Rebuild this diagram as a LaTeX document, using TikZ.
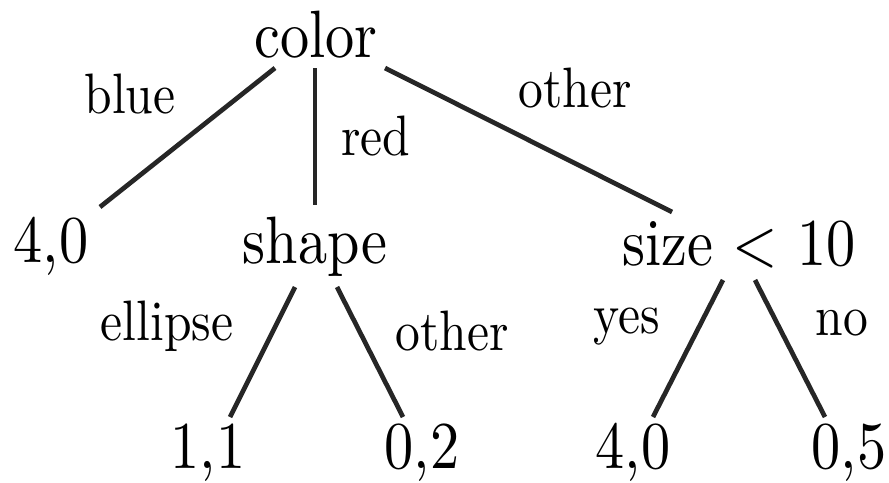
\documentclass[tikz,border=0pt]{standalone}
\usepackage{graphicx}
\usepackage{fontspec}
\setmainfont{lmroman10-regular.otf}
\newcommand\NT[1]{\scalebox{0.87}[1]{#1}}
\begin{document}
\begin{tikzpicture}[x=1pt,y=-1pt,
  nd/.style={anchor=base, inner sep=0pt, font=\fontsize{67}{80}\selectfont},
  lb/.style={anchor=base, inner sep=0pt, font=\fontsize{57}{68}\selectfont},
  edge/.style={line width=4.7pt, black!85}]
\useasboundingbox (0,0) rectangle (889,482);
% nodes
\node[nd] (color) at (316,57) {\NT{color}};
\node[nd] (l40) at (51,262) {\NT{4,0}};
\node[nd] (shape) at (315,263) {\NT{shape}};
\node[nd] (size) at (739,265) {\NT{size < 10}};
\node[nd] (n11) at (208,468) {\NT{1,1}};
\node[nd] (n02) at (422,468) {\NT{0,2}};
\node[nd] (n40) at (633,468) {\NT{4,0}};
\node[nd] (n05) at (849,468) {\NT{0,5}};
% labels
\node[lb] (lblue) at (130,113) {\NT{blue}};
\node[lb] (lred) at (376,155) {\NT{red}};
\node[lb] (lother) at (575,107) {\NT{other}};
\node[lb] (lellipse) at (167,340) {\NT{ellipse}};
\node[lb] (lother2) at (452,350) {\NT{other}};
\node[lb] (lyes) at (627,333) {\NT{yes}};
\node[lb] (lno) at (842,335) {\NT{no}};
% edges
\draw[edge] ([shift={(-41,11)}]color.base) -- ([shift={(49,-55)}]l40.base);
\draw[edge] ([shift={(-1,11)}]color.base) -- ([shift={(0,-58)}]shape.base);
\draw[edge] ([shift={(69,11)}]color.base) -- ([shift={(-67,-53)}]size.base);
\draw[edge] ([shift={(-20,24)}]shape.base) -- ([shift={(22,-51)}]n11.base);
\draw[edge] ([shift={(22,24)}]shape.base) -- ([shift={(-19,-51)}]n02.base);
\draw[edge] ([shift={(-16,15)}]size.base) -- ([shift={(20,-51)}]n40.base);
\draw[edge] ([shift={(16,15)}]size.base) -- ([shift={(-24,-51)}]n05.base);
\end{tikzpicture}
\end{document}
